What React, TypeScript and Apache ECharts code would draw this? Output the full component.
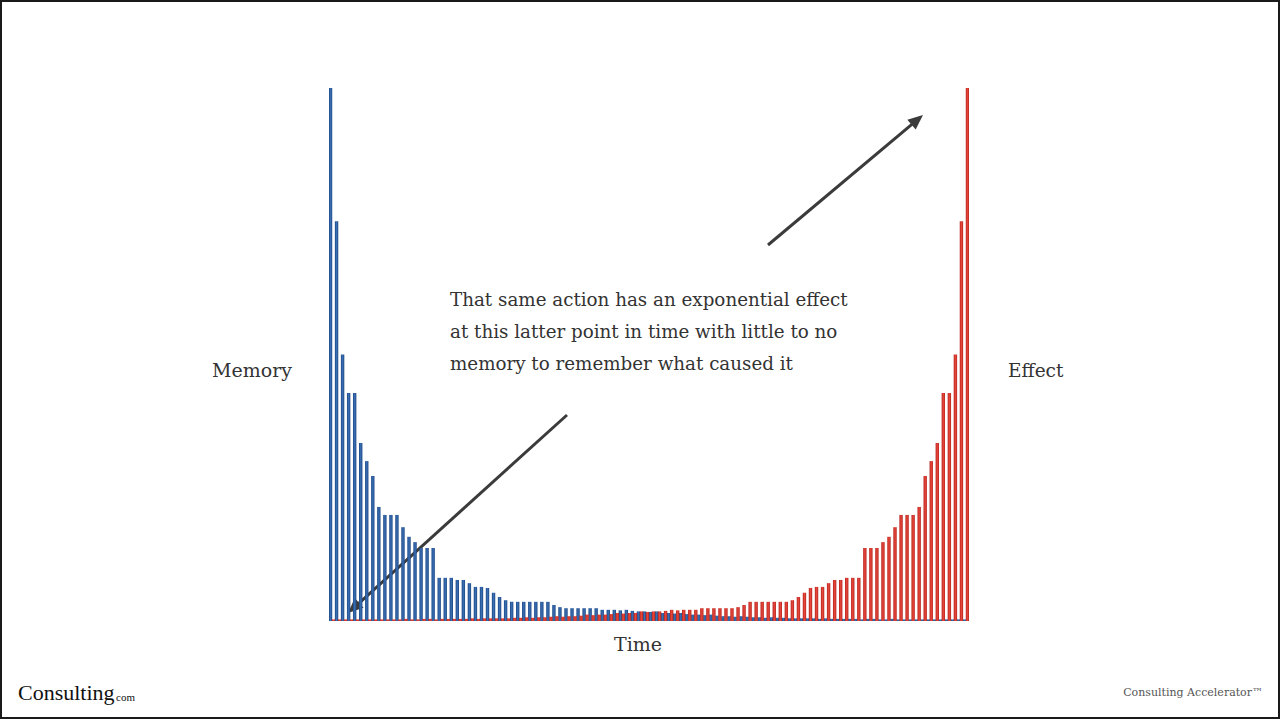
import React, { useEffect, useRef } from "react";
import * as echarts from "echarts";

// Memory (blue) – decays from the left
const memoryValues = [
  100, 75, 50, 42.8, 42.8, 33.4, 30, 27.2, 21.4, 19.9,
  19.9, 19.9, 17.6, 15.8, 14.8, 13.7, 13.7, 13.7, 8.1, 8.1,
  8.1, 7.7, 7.7, 7.1, 6.4, 6.4, 6.2, 5.3, 4.5, 3.9,
  3.6, 3.6, 3.6, 3.6, 3.6, 3.6, 3.6, 3.0, 2.6, 2.4,
  2.4, 2.4, 2.4, 2.4, 2.4, 2.1, 2.1, 2.1, 2.0, 2.1,
  1.9, 1.8, 1.8, 1.7, 1.8, 1.5, 1.5, 1.4, 1.5, 1.3,
  1.2, 1.2, 1.1, 1.2, 1.0, 0.9, 0.9, 0.8, 0.9, 0.8,
  0.7, 0.7, 0.6, 0.7, 0.6, 0.6, 0.5, 0.5, 0.5, 0.5,
  0.5, 0.4, 0.5, 0.4, 0.4, 0.4, 0.4, 0.4, 0.3, 0.4,
  0.4, 0.3, 0.3, 0.4, 0.3, 0.3, 0.3, 0.3, 0.3, 0.3,
  0.3, 0.3, 0.3, 0.3, 0.3, 0.3,
];

// Effect (red) – grows toward the right
const effectValues = [
  0.3, 0.3, 0.3, 0.3, 0.3, 0.3, 0.3, 0.3, 0.3, 0.3,
  0.3, 0.3, 0.4, 0.3, 0.3, 0.4, 0.4, 0.3, 0.4, 0.4,
  0.4, 0.4, 0.4, 0.5, 0.4, 0.5, 0.5, 0.5, 0.5, 0.5,
  0.6, 0.6, 0.7, 0.6, 0.7, 0.7, 0.8, 0.9, 0.8, 0.9,
  0.9, 1.0, 1.2, 1.1, 1.2, 1.2, 1.3, 1.5, 1.4, 1.5,
  1.5, 1.8, 1.7, 1.8, 1.8, 1.9, 2.1, 2.0, 2.1, 2.1,
  2.1, 2.4, 2.4, 2.4, 2.4, 2.4, 2.4, 2.6, 3.0, 3.6,
  3.6, 3.6, 3.6, 3.6, 3.6, 3.6, 3.9, 4.5, 5.3, 6.2,
  6.4, 6.4, 7.1, 7.7, 7.7, 8.1, 8.1, 8.1, 13.7, 13.7,
  13.7, 14.8, 15.8, 17.6, 19.9, 19.9, 19.9, 21.4, 27.2, 30,
  33.4, 42.8, 42.8, 50, 75, 100,
];

const timeCategories = memoryValues.map((_, i) => String(i + 1));

const annotationLines = [
  "That same action has an exponential effect",
  "at this latter point in time with little to no",
  "memory to remember what caused it",
];

const SERIF = "'DejaVu Serif', serif";

function arrow(x1: number, y1: number, x2: number, y2: number) {
  const dx = x2 - x1;
  const dy = y2 - y1;
  const len = Math.sqrt(dx * dx + dy * dy);
  const ux = dx / len;
  const uy = dy / len;
  const headLen = 15;
  const headHalf = 6.5;
  const bx = x2 - ux * headLen;
  const by = y2 - uy * headLen;
  const px = -uy;
  const py = ux;
  return [
    {
      type: "line",
      shape: { x1, y1, x2: bx + ux * 2, y2: by + uy * 2 },
      style: { stroke: "#3b3b3b", lineWidth: 3 },
    },
    {
      type: "polygon",
      shape: {
        points: [
          [x2, y2],
          [bx + px * headHalf, by + py * headHalf],
          [bx - px * headHalf, by - py * headHalf],
        ],
      },
      style: { fill: "#3b3b3b" },
    },
  ];
}

function txt(text: string, x: number, y: number, font: string, fill: string, align = "left") {
  return {
    type: "text",
    style: {
      text,
      x,
      y,
      font,
      fill,
      align,
      verticalAlign: "middle",
      textAlign: align,
      textVerticalAlign: "middle",
    },
  };
}

export default function App() {
  const ref = useRef<HTMLDivElement>(null);

  useEffect(() => {
    if (!ref.current) return;
    const chart = echarts.init(ref.current, null, { renderer: "svg" });

    const blueFill = new echarts.graphic.LinearGradient(0, 0, 1, 0, [
      { offset: 0, color: "#1c4886" },
      { offset: 0.5, color: "#3b6fb3" },
      { offset: 1, color: "#1c4886" },
    ]);
    const redFill = new echarts.graphic.LinearGradient(0, 0, 1, 0, [
      { offset: 0, color: "#b8261f" },
      { offset: 0.5, color: "#e6463b" },
      { offset: 1, color: "#b8261f" },
    ]);

    const graphics: any[] = [
      {
        type: "rect",
        shape: { x: 1, y: 1, width: 1278, height: 717 },
        style: { fill: "none", stroke: "#1a1a1a", lineWidth: 2 },
      },
      txt("Memory", 212, 370, `19px ${SERIF}`, "#333333"),
      txt("Effect", 1008, 370, `18.5px ${SERIF}`, "#333333"),
      txt("Time", 638, 644, `19px ${SERIF}`, "#333333", "center"),
      txt(annotationLines[0], 450, 299, `18.3px ${SERIF}`, "#333333"),
      txt(annotationLines[1], 450, 331, `18.3px ${SERIF}`, "#333333"),
      txt(annotationLines[2], 450, 363, `18.3px ${SERIF}`, "#333333"),
      ...arrow(567, 415, 348, 613),
      ...arrow(768, 245, 923, 115),
      txt("Consulting", 18, 692, `22px 'Liberation Serif', serif`, "#111111"),
      txt("com", 116, 697, `11px 'Liberation Serif', serif`, "#111111"),
      txt("Consulting Accelerator™", 1263, 692, `11px ${SERIF}`, "#555555", "right"),
    ];

    chart.setOption({
      animation: false,
      backgroundColor: "#ffffff",
      grid: { left: 329, right: 311, top: 88, bottom: 99, containLabel: false },
      xAxis: {
        type: "category",
        data: timeCategories,
        axisLine: { show: false },
        axisTick: { show: false },
        axisLabel: { show: false },
        splitLine: { show: false },
      },
      yAxis: {
        type: "value",
        min: 0,
        max: 100,
        show: false,
        splitLine: { show: false },
      },
      series: [
        {
          name: "Memory",
          type: "bar",
          data: memoryValues,
          barWidth: 3.4,
          barGap: "-12%",
          itemStyle: { color: blueFill },
        },
        {
          name: "Effect",
          type: "bar",
          data: effectValues,
          barWidth: 3.4,
          barGap: "-12%",
          itemStyle: { color: redFill },
        },
      ],
      graphic: graphics,
    });

    return () => chart.dispose();
  }, []);

  return (
    <div
      ref={ref}
      style={{ position: "fixed", left: 0, top: 0, width: 1280, height: 720, background: "#fff" }}
    />
  );
}
